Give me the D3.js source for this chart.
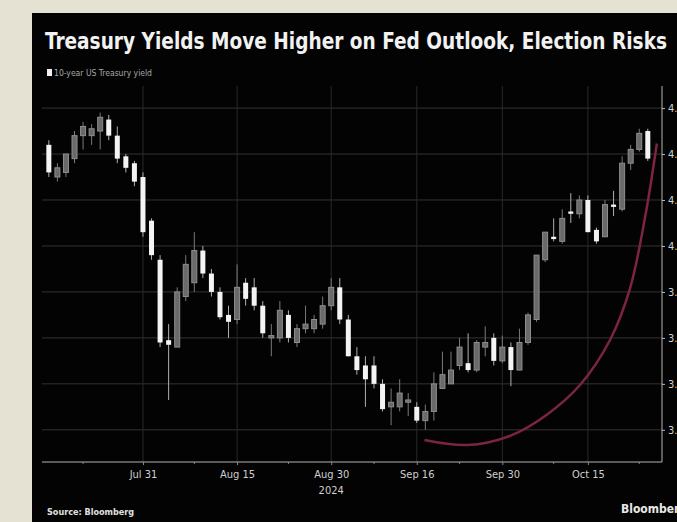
<!DOCTYPE html>
<html>
<head>
<meta charset="utf-8">
<script src="https://cdn.jsdelivr.net/npm/d3@7"></script>
<style>
  body { margin: 0; background: #e6e2d3; }
  svg { display: block; }
</style>
</head>
<body>
<div id="chart"></div>
<script>
// trading days (Labor Day and Columbus Day missing, like the source)
const dates = [
  "2024-07-16","2024-07-17","2024-07-18","2024-07-19","2024-07-22","2024-07-23","2024-07-24","2024-07-25","2024-07-26","2024-07-29","2024-07-30","2024-07-31",
  "2024-08-01","2024-08-02","2024-08-05","2024-08-06","2024-08-07","2024-08-08","2024-08-09","2024-08-12","2024-08-13","2024-08-14","2024-08-15","2024-08-16",
  "2024-08-19","2024-08-20","2024-08-21","2024-08-22","2024-08-23","2024-08-26","2024-08-27","2024-08-28","2024-08-29","2024-08-30",
  "2024-09-03","2024-09-04","2024-09-05","2024-09-06","2024-09-09","2024-09-10","2024-09-11","2024-09-12","2024-09-13","2024-09-16","2024-09-17","2024-09-18",
  "2024-09-19","2024-09-20","2024-09-23","2024-09-24","2024-09-25","2024-09-26","2024-09-27","2024-09-30",
  "2024-10-01","2024-10-02","2024-10-03","2024-10-04","2024-10-07","2024-10-08","2024-10-09","2024-10-10","2024-10-11","2024-10-15","2024-10-16","2024-10-17",
  "2024-10-18","2024-10-21","2024-10-22","2024-10-23","2024-10-24"
];
const open  = [4.22,4.15,4.16,4.19,4.24,4.24,4.25,4.275,4.24,4.195,4.18,4.15,
  4.055,3.97,3.795,3.78,3.89,3.92,3.99,3.94,3.90,3.85,3.84,3.92,
  3.91,3.87,3.80,3.80,3.85,3.79,3.82,3.82,3.83,3.87,
  3.91,3.84,3.76,3.74,3.74,3.70,3.65,3.65,3.66,3.65,3.62,3.64,
  3.69,3.70,3.74,3.745,3.73,3.78,3.80,3.75,
  3.78,3.73,3.79,3.84,3.97,4.02,4.01,4.075,4.07,4.10,4.035,4.02,
  4.09,4.08,4.18,4.21,4.25];
const high  = [4.23,4.18,4.20,4.25,4.27,4.265,4.29,4.285,4.26,4.20,4.185,4.16,
  4.06,3.98,3.83,3.91,3.98,4.03,4.00,3.95,3.91,3.87,3.96,3.93,
  3.93,3.88,3.83,3.88,3.86,3.83,3.87,3.85,3.89,3.93,
  3.93,3.85,3.78,3.76,3.76,3.71,3.69,3.71,3.68,3.66,3.655,3.725,
  3.77,3.77,3.80,3.81,3.795,3.825,3.81,3.805,
  3.79,3.82,3.855,3.98,4.03,4.06,4.08,4.115,4.11,4.11,4.04,4.10,
  4.12,4.195,4.22,4.255,4.255];
const low   = [4.15,4.14,4.15,4.18,4.21,4.22,4.21,4.23,4.18,4.16,4.13,4.02,
  3.97,3.78,3.665,3.78,3.88,3.90,3.93,3.89,3.84,3.80,3.83,3.87,
  3.86,3.80,3.76,3.79,3.79,3.78,3.81,3.81,3.82,3.86,
  3.83,3.76,3.72,3.65,3.69,3.64,3.61,3.64,3.63,3.615,3.60,3.62,
  3.69,3.70,3.73,3.725,3.725,3.76,3.74,3.745,
  3.695,3.73,3.785,3.835,3.965,4.01,4.005,4.05,4.06,4.03,4.005,4.02,
  4.065,4.075,4.165,4.205,4.185];
const close = [4.16,4.17,4.20,4.24,4.26,4.255,4.28,4.24,4.19,4.17,4.14,4.03,
  3.98,3.79,3.785,3.90,3.96,3.99,3.94,3.90,3.845,3.835,3.91,3.885,
  3.87,3.81,3.805,3.86,3.80,3.82,3.83,3.84,3.87,3.91,
  3.84,3.76,3.73,3.71,3.70,3.645,3.66,3.68,3.665,3.62,3.64,3.70,
  3.72,3.73,3.78,3.73,3.79,3.79,3.75,3.78,
  3.73,3.79,3.85,3.98,4.03,4.015,4.06,4.07,4.10,4.03,4.01,4.09,
  4.085,4.18,4.21,4.245,4.19];

const yTicks = [3.6, 3.7, 3.8, 3.9, 4.0, 4.1, 4.2, 4.3];
const xTickDates  = ["2024-07-31","2024-08-15","2024-08-30","2024-09-16","2024-09-30","2024-10-15"];
const xTickLabels = ["Jul 31","Aug 15","Aug 30","Sep 16","Sep 30","Oct 15"];
const minorTickDates = ["2024-07-22","2024-08-08","2024-08-23","2024-09-09","2024-09-23","2024-10-08","2024-10-23"];

// hand-drawn annotation curve, in trading-day position / yield
const curvePos = [43.9, 48.9, 53.9, 58.2, 62.1, 65.6, 67.9, 69.65, 71.06];
const curveVal = [3.578, 3.567, 3.587, 3.633, 3.698, 3.796, 3.906, 4.059, 4.223];

const W = 677, H = 522;
const plot = {left: 42, right: 662, top: 86, bottom: 462};

const svg = d3.select("#chart").append("svg")
    .attr("width", W)
    .attr("height", H);

// beige frame + black card
svg.append("rect").attr("width", W).attr("height", H).attr("fill", "#e6e2d3");
svg.append("rect").attr("x", 32).attr("y", 13).attr("width", W - 32).attr("height", H - 13).attr("fill", "#030303");

const x = d3.scaleLinear()
    .domain([-0.8, dates.length + 0.66])
    .range([plot.left, plot.right]);
const y = d3.scaleLinear()
    .domain([3.53, 4.348])
    .range([plot.bottom, plot.top]);

const idx = d => dates.indexOf(d);

// title and legend
svg.append("text")
    .attr("x", 45).attr("y", 49)
    .attr("textLength", 622).attr("lengthAdjust", "spacingAndGlyphs")
    .style("font-family", "'DejaVu Sans Condensed', 'DejaVu Sans', sans-serif")
    .style("font-weight", "bold").style("font-size", "23px")
    .attr("fill", "#f2f2f2")
    .text("Treasury Yields Move Higher on Fed Outlook, Election Risks");

svg.append("rect").attr("x", 47).attr("y", 69).attr("width", 5).attr("height", 7).attr("fill", "#f0f0f0");
svg.append("text")
    .attr("x", 54).attr("y", 76)
    .attr("textLength", 98).attr("lengthAdjust", "spacingAndGlyphs")
    .style("font-family", "'DejaVu Sans Condensed', sans-serif").style("font-size", "8px")
    .attr("fill", "#a8a8a8")
    .text("10-year US Treasury yield");

// gridlines
svg.append("g").selectAll("line")
    .data(yTicks).join("line")
    .attr("x1", plot.left).attr("x2", plot.right)
    .attr("y1", d => y(d)).attr("y2", d => y(d))
    .attr("stroke", "#333").attr("stroke-width", 1);

svg.append("g").selectAll("line")
    .data(xTickDates).join("line")
    .attr("x1", d => x(idx(d))).attr("x2", d => x(idx(d)))
    .attr("y1", plot.top).attr("y2", plot.bottom)
    .attr("stroke", "#2a2a2a").attr("stroke-width", 1);

// candles
const candles = dates.map((d, i) => ({date: d, i: i, o: open[i], h: high[i], l: low[i], c: close[i]}));

const g = svg.append("g");
g.selectAll(".wick")
    .data(candles).join("line")
    .attr("class", "wick")
    .attr("x1", d => x(d.i)).attr("x2", d => x(d.i))
    .attr("y1", d => y(d.h)).attr("y2", d => y(d.l))
    .attr("stroke", d => d.c < d.o ? "#b0b0b0" : "#7a7a7a")
    .attr("stroke-width", 1);

g.selectAll(".body")
    .data(candles).join("rect")
    .attr("class", "body")
    .attr("x", d => x(d.i) - 2.5)
    .attr("width", 5)
    .attr("y", d => y(Math.max(d.o, d.c)))
    .attr("height", d => Math.max(2, Math.abs(y(d.o) - y(d.c))))
    .attr("fill", d => d.c < d.o ? "#f4f4f4" : "#6a6a6a")
    .attr("stroke", d => d.c < d.o ? "none" : "#8e8e8e")
    .attr("stroke-width", 1);

// annotation curve
const curvePts = curvePos.map((p, i) => [x(p), y(curveVal[i])]);
svg.append("path")
    .attr("d", d3.line().curve(d3.curveCatmullRom.alpha(0.5))(curvePts))
    .attr("fill", "none")
    .attr("stroke", "#7c2444")
    .attr("stroke-width", 2.5);

// axes
const xAxis = d3.axisBottom(x)
    .tickValues(xTickDates.map(idx))
    .tickFormat((d, i) => xTickLabels[i])
    .tickSize(3).tickPadding(5);

const xg = svg.append("g")
    .attr("transform", `translate(0,${plot.bottom})`)
    .call(xAxis);
xg.select(".domain").attr("stroke", "#b5b5b5").attr("d", `M${plot.left},0H${plot.right}`);
xg.selectAll(".tick line").attr("stroke", "#888");
xg.selectAll("text")
    .attr("fill", "#cfcfcf")
    .style("font-family", "'DejaVu Sans Condensed', sans-serif")
    .style("font-size", "11px");

svg.append("g").selectAll("line")
    .data(minorTickDates).join("line")
    .attr("x1", d => x(idx(d))).attr("x2", d => x(idx(d)))
    .attr("y1", plot.bottom).attr("y2", plot.bottom + 2)
    .attr("stroke", "#888");

svg.append("text")
    .attr("x", x(idx("2024-08-30"))).attr("y", 494)
    .attr("text-anchor", "middle")
    .style("font-family", "'DejaVu Sans Condensed', sans-serif").style("font-size", "11px")
    .attr("fill", "#cfcfcf")
    .text("2024");

const yAxis = d3.axisRight(y)
    .tickValues(yTicks)
    .tickFormat(d => d3.format(".2f")(d) + "%")
    .tickSize(3).tickPadding(3);

const yg = svg.append("g")
    .attr("transform", `translate(${plot.right},0)`)
    .call(yAxis);
yg.select(".domain").attr("stroke", "#b5b5b5").attr("d", `M0,${plot.top}V${plot.bottom}`);
yg.selectAll(".tick line").attr("stroke", "#bbb");
yg.selectAll("text")
    .attr("fill", "#cfcfcf")
    .style("font-family", "'DejaVu Sans Condensed', sans-serif")
    .style("font-size", "11px");

// footer
svg.append("text")
    .attr("x", 47).attr("y", 515)
    .style("font-family", "'DejaVu Sans Condensed', sans-serif")
    .style("font-weight", "bold").style("font-size", "9px")
    .attr("fill", "#e0e0e0")
    .text("Source: Bloomberg");

svg.append("text")
    .attr("x", 621).attr("y", 513)
    .style("font-family", "'DejaVu Sans Condensed', sans-serif")
    .style("font-weight", "bold").style("font-size", "12px")
    .attr("fill", "#e8e8e8")
    .text("Bloomberg");
</script>
</body>
</html>
